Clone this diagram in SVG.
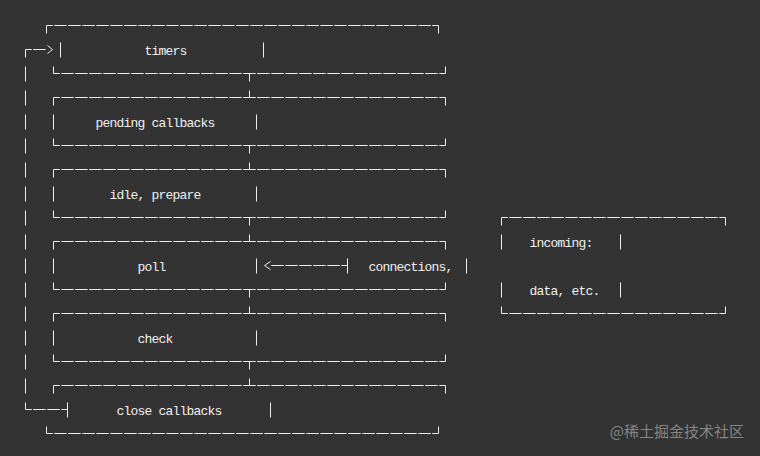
<svg xmlns="http://www.w3.org/2000/svg" width="760" height="456" viewBox="0 0 760 456">
<style>
  .ln { fill: none; stroke: #ececec; stroke-width: 1; }
  .h { stroke-dasharray: 12.5 1.5; stroke-dashoffset: 6.25; }
  .h2 { stroke-dasharray: 12.5 1.5; stroke-dashoffset: 0; }
  .loop { stroke-dasharray: 15 9; stroke-dashoffset: 7; }
  .t { font-family: "Liberation Mono", "DejaVu Sans Mono", monospace; font-size: 13px; letter-spacing: -0.8px; fill: #f0f0f0; }
  .wm { font-family: "Noto Sans CJK SC", "Noto Sans", sans-serif; font-size: 15px; fill: #858585; }
</style>
<rect x="0" y="0" width="760" height="456" fill="#333333"/>

<g id="connectors" class="ln">
  <!-- loop back from close callbacks to timers -->
  <path class="loop" d="M25.5,49.5 V409.5"/>
  <path class="h" d="M25.5,49.5 H46.5"/>
  <path d="M47.5,45.5 L52.5,49.5 L47.5,53.5"/>
  <path class="h" d="M25.5,409.5 H67.5"/>
  <!-- links between phases -->
  <path d="M249.5,73.5 V81.5 M249.5,90.5 V97.5 M249.5,145.5 V153.5 M249.5,162.5 V169.5 M249.5,217.5 V225.5 M249.5,234.5 V241.5 M249.5,289.5 V297.5 M249.5,306.5 V313.5 M249.5,361.5 V369.5 M249.5,378.5 V385.5"/>
  <!-- incoming arrow into poll -->
  <path class="h2" d="M271.25,265.5 H347.5"/>
  <path d="M270.5,261.5 L264.5,265.5 L270.5,269.5"/>
  <path d="M347.5,258.5 V273.5"/>
</g>

<g id="timers">
  <g class="ln">
    <path class="h" d="M46.5,25.5 H438.5"/>
    <path d="M46.5,25.5 V33.5 M438.5,25.5 V33.5"/>
    <path d="M60.5,42.5 V57.5 M263.5,42.5 V57.5"/>
    <path class="h" d="M53.5,73.5 H445.5"/>
    <path d="M53.5,66.5 V73.5 M445.5,66.5 V73.5"/>
  </g>
  <text class="t" x="144.5" y="54.5">timers</text>
</g>

<g id="pending">
  <g class="ln">
    <path class="h" d="M53.5,97.5 H445.5"/>
    <path d="M53.5,97.5 V105.5 M445.5,97.5 V105.5"/>
    <path d="M53.5,114.5 V129.5 M256.5,114.5 V129.5"/>
    <path class="h" d="M53.5,145.5 H445.5"/>
    <path d="M53.5,138.5 V145.5 M445.5,138.5 V145.5"/>
  </g>
  <text class="t" x="95.5" y="126.5">pending callbacks</text>
</g>

<g id="idle">
  <g class="ln">
    <path class="h" d="M53.5,169.5 H445.5"/>
    <path d="M53.5,169.5 V177.5 M445.5,169.5 V177.5"/>
    <path d="M53.5,186.5 V201.5 M256.5,186.5 V201.5"/>
    <path class="h" d="M53.5,217.5 H445.5"/>
    <path d="M53.5,210.5 V217.5 M445.5,210.5 V217.5"/>
  </g>
  <text class="t" x="109.5" y="198.5">idle, prepare</text>
</g>

<g id="poll">
  <g class="ln">
    <path class="h" d="M53.5,241.5 H445.5"/>
    <path d="M53.5,241.5 V249.5 M445.5,241.5 V249.5"/>
    <path d="M53.5,258.5 V273.5 M256.5,258.5 V273.5"/>
    <path class="h" d="M53.5,289.5 H445.5"/>
    <path d="M53.5,282.5 V289.5 M445.5,282.5 V289.5"/>
  </g>
  <text class="t" x="137.5" y="270.5">poll</text>
</g>

<g id="check">
  <g class="ln">
    <path class="h" d="M53.5,313.5 H445.5"/>
    <path d="M53.5,313.5 V321.5 M445.5,313.5 V321.5"/>
    <path d="M53.5,330.5 V345.5 M256.5,330.5 V345.5"/>
    <path class="h" d="M53.5,361.5 H445.5"/>
    <path d="M53.5,354.5 V361.5 M445.5,354.5 V361.5"/>
  </g>
  <text class="t" x="137.5" y="342.5">check</text>
</g>

<g id="close">
  <g class="ln">
    <path class="h" d="M53.5,385.5 H445.5"/>
    <path d="M53.5,385.5 V393.5 M445.5,385.5 V393.5"/>
    <path d="M67.5,402.5 V417.5 M270.5,402.5 V417.5"/>
    <path class="h" d="M46.5,433.5 H438.5"/>
    <path d="M46.5,426.5 V433.5 M438.5,426.5 V433.5"/>
  </g>
  <text class="t" x="116.5" y="414.5">close callbacks</text>
</g>

<g id="incoming">
  <g class="ln">
    <path class="h" d="M501.5,217.5 H725.5"/>
    <path d="M501.5,217.5 V225.5 M725.5,217.5 V225.5"/>
    <path d="M501.5,234.5 V249.5 M620.5,234.5 V249.5"/>
    <path d="M466.5,258.5 V273.5"/>
    <path d="M501.5,282.5 V297.5 M620.5,282.5 V297.5"/>
    <path class="h" d="M501.5,313.5 H725.5"/>
    <path d="M501.5,306.5 V313.5 M725.5,306.5 V313.5"/>
  </g>
  <text class="t" x="529.5" y="246.5">incoming:</text>
  <text class="t" x="368.5" y="270.5">connections,</text>
  <text class="t" x="529.5" y="294.5">data, etc.</text>
</g>

<text class="wm" x="744" y="437" text-anchor="end">@稀土掘金技术社区</text>
</svg>
